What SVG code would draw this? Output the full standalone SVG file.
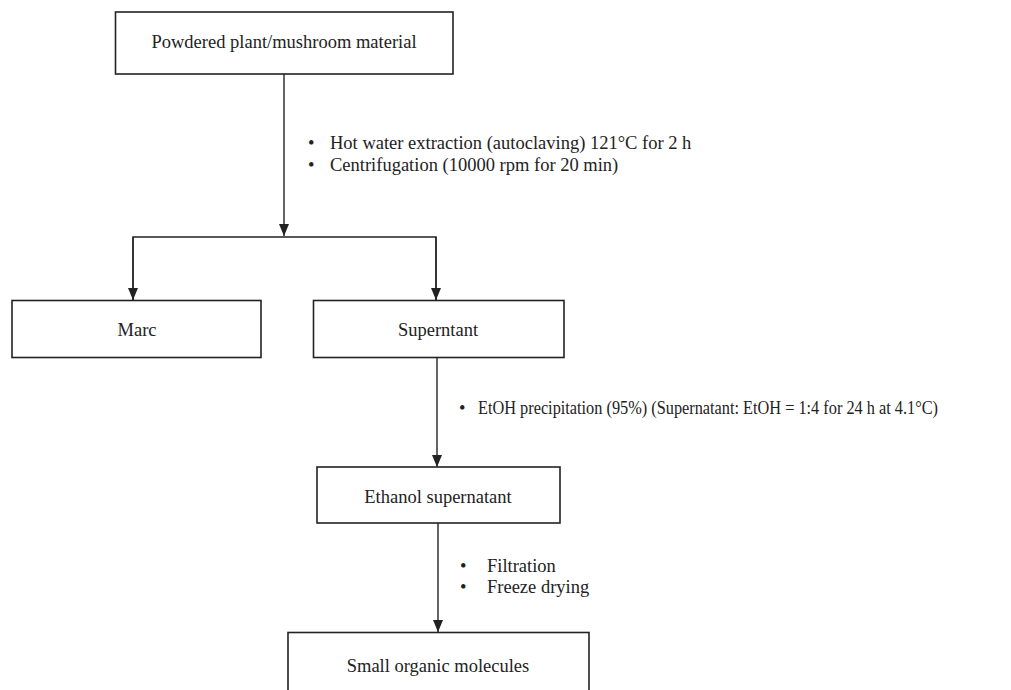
<svg xmlns="http://www.w3.org/2000/svg" width="1011" height="690" viewBox="0 0 1011 690">
<style>
.box{fill:#fff;stroke:#222;stroke-width:1.6}
.t{font-family:"Liberation Serif","Times New Roman",serif;font-size:18.5px;fill:#222}
.c{text-anchor:middle}
.ln{fill:none;stroke:#222;stroke-width:1.4}
</style>
<defs>
<marker id="ah" markerWidth="12" markerHeight="10" refX="12" refY="5" orient="auto" markerUnits="userSpaceOnUse">
<path d="M0,0 L12,5 L0,10 Z" fill="#222"/>
</marker>
</defs>
<rect width="1011" height="690" fill="#fff"/>
<g id="connectors">
<line class="ln" x1="284" y1="74" x2="284" y2="236" marker-end="url(#ah)"/>
<polyline class="ln" points="133,300 133,237 436,237 436,300"/>
<line class="ln" x1="133" y1="237" x2="133" y2="300" marker-end="url(#ah)"/>
<line class="ln" x1="436" y1="237" x2="436" y2="300" marker-end="url(#ah)"/>
<line class="ln" x1="437" y1="358" x2="437" y2="467" marker-end="url(#ah)"/>
<line class="ln" x1="438" y1="523" x2="438" y2="632" marker-end="url(#ah)"/>
</g>
<g id="label-extraction">
<text class="t" x="308" y="149">•</text>
<text class="t" x="330" y="149">Hot water extraction (autoclaving) 121°C for 2 h</text>
<text class="t" x="308" y="171">•</text>
<text class="t" x="330" y="171">Centrifugation (10000 rpm for 20 min)</text>
</g>
<g id="label-etoh">
<text class="t" x="459" y="414">•</text>
<text class="t" x="478" y="414" textLength="460" lengthAdjust="spacingAndGlyphs">EtOH precipitation (95%) (Supernatant: EtOH = 1:4 for 24 h at 4.1°C)</text>
</g>
<g id="label-filtration">
<text class="t" x="460" y="572">•</text>
<text class="t" x="487" y="572">Filtration</text>
<text class="t" x="460" y="593">•</text>
<text class="t" x="487" y="593">Freeze drying</text>
</g>
<g id="node-powder">
<rect class="box" x="115.5" y="12" width="337.5" height="62"/>
<text class="t c" x="284" y="48">Powdered plant/mushroom material</text>
</g>
<g id="node-marc">
<rect class="box" x="12" y="300.5" width="249" height="57"/>
<text class="t c" x="137" y="336">Marc</text>
</g>
<g id="node-superntant">
<rect class="box" x="313.5" y="300.5" width="250.5" height="57"/>
<text class="t c" x="438" y="336">Superntant</text>
</g>
<g id="node-ethanol">
<rect class="box" x="317" y="467" width="243" height="56"/>
<text class="t c" x="438" y="503">Ethanol supernatant</text>
</g>
<g id="node-small">
<rect class="box" x="288" y="632.5" width="301" height="70"/>
<text class="t c" x="438" y="672">Small organic molecules</text>
</g>
</svg>
